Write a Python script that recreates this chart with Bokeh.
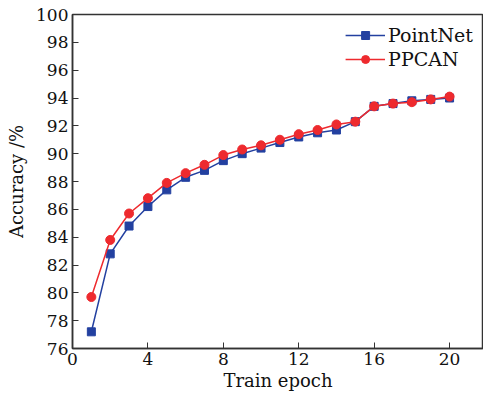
from bokeh.plotting import figure
from bokeh.models import Range1d, Legend, LegendItem, FixedTicker
from bokeh.embed import file_html
from bokeh.resources import INLINE

epochs = list(range(1, 21))
pointnet = [77.2, 82.8, 84.8, 86.2, 87.4, 88.3, 88.8, 89.5, 90.0, 90.4,
            90.8, 91.2, 91.5, 91.7, 92.3, 93.4, 93.6, 93.8, 93.9, 94.0]
ppcan = [79.7, 83.8, 85.7, 86.8, 87.9, 88.6, 89.2, 89.9, 90.3, 90.6,
         91.0, 91.4, 91.7, 92.1, 92.3, 93.4, 93.6, 93.7, 93.9, 94.1]
x_ticks = [0, 4, 8, 12, 16, 20]
y_ticks = list(range(76, 101, 2))

FONT = "DejaVu Serif"
BLUE = "#2340a0"
RED = "#ee2a2e"

p = figure(width=483, height=401, output_backend="svg", toolbar_location=None,
           x_range=Range1d(0, 21.8), y_range=Range1d(76, 100),
           min_border_left=72, min_border_right=0, min_border_top=14, min_border_bottom=53)
p.background_fill_color = "white"
p.border_fill_color = "white"
p.outline_line_color = "#333333"
p.outline_line_width = 1.5
p.xgrid.visible = False
p.ygrid.visible = False

for ax in (p.xaxis[0], p.yaxis[0]):
    ax.major_tick_in = 6
    ax.major_tick_out = 0
    ax.minor_tick_in = 0
    ax.minor_tick_out = 0
    ax.axis_line_color = "#333333"
    ax.axis_line_width = 1.5
    ax.major_tick_line_color = "#333333"
    ax.major_label_text_font = FONT
    ax.major_label_text_font_size = "17px"
    ax.major_label_text_color = "#111111"
    ax.axis_label_text_font = FONT
    ax.axis_label_text_font_size = "18px"
    ax.axis_label_text_font_style = "normal"
    ax.axis_label_text_color = "#111111"

p.xaxis.ticker = FixedTicker(ticks=x_ticks)
p.yaxis.ticker = FixedTicker(ticks=y_ticks)
p.xaxis.axis_label = "Train epoch"
p.yaxis.axis_label = "Accuracy /%"
p.xaxis.major_label_standoff = 4
p.yaxis.major_label_standoff = 4
p.xaxis.axis_label_standoff = 2
p.yaxis.axis_label_standoff = 6

l1 = p.line(epochs, pointnet, line_color=BLUE, line_width=1.5)
m1 = p.scatter(epochs, pointnet, marker="square", size=8, fill_color=BLUE, line_color=BLUE)
l2 = p.line(epochs, ppcan, line_color=RED, line_width=1.5)
m2 = p.scatter(epochs, ppcan, marker="circle", size=9, fill_color=RED, line_color=RED)

legend = Legend(items=[LegendItem(label="PointNet", renderers=[l1, m1]),
                       LegendItem(label="PPCAN", renderers=[l2, m2])],
                location="top_right")
legend.border_line_color = None
legend.background_fill_alpha = 0
legend.label_text_font = FONT
legend.label_text_font_size = "19px"
legend.label_text_color = "#111111"
legend.glyph_width = 40
legend.glyph_height = 20
legend.spacing = 2
legend.label_standoff = 3
legend.label_height = 20
legend.margin = 10
legend.padding = 6
p.add_layout(legend)

open("out.html", "w").write(file_html(p, INLINE))
